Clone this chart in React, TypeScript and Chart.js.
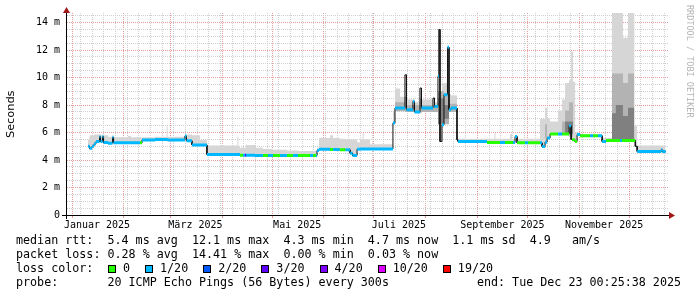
import React, { useEffect, useRef } from 'react';
import { Chart, registerables } from 'chart.js';

Chart.register(...registerables);

// ---------------- data (x = days since 1 Jan 2025, y = milliseconds) ----------------
const DAYS = [
  9.6, 10.5, 12.0, 13.2, 14.4, 16.5, 17.1, 18.3, 18.9, 21.6,
  24.3, 24.9, 33.6, 35.4, 40.8, 42.0, 49.8, 56.7, 57.3, 67.7,
  68.6, 71.9, 76.7, 80.9, 99.2, 99.8, 100.7, 102.5, 103.7, 104.3,
  109.7, 114.5, 117.5, 120.5, 124.7, 128.9, 132.5, 135.5, 142.7, 144.5,
  146.3, 146.9, 148.1, 154.7, 156.5, 160.4, 164.0, 166.7, 168.2, 170.9,
  172.7, 174.2, 174.8, 178.7, 192.4, 193.6, 196.6, 199.6, 200.5, 204.4,
  205.3, 208.6, 209.5, 216.4, 217.3, 219.4, 219.9, 220.6, 221.8, 223.0,
  225.1, 226.0, 227.2, 230.8, 231.4, 248.8, 253.3, 253.9, 256.6, 259.6,
  262.6, 263.8, 264.4, 265.6, 266.8, 271.6, 273.4, 280.6, 281.8, 283.6,
  284.8, 286.6, 291.4, 293.8, 295.6, 298.0, 299.2, 299.8, 300.4, 301.6,
  302.8, 304.6, 310.6, 312.4, 315.3, 317.8, 320.1, 323.7, 328.5, 329.7,
  330.3, 333.3, 337.1, 337.7, 338.8, 353.2, 353.8,
];
const END_DAY = 355.9;

const MEDIAN = [
  5.0, 4.85, 5.0, 5.18, 5.35, 5.7, 5.35, 5.7, 5.27, 5.23,
  5.65, 5.25, 5.25, 5.25, 5.25, 5.45, 5.5, 5.5, 5.45, 5.75,
  5.4, 5.1, 5.1, 4.4, 4.4, 4.4, 4.35, 4.35, 4.35, 4.35,
  4.33, 4.33, 4.33, 4.33, 4.33, 4.33, 4.33, 4.33, 4.33, 4.33,
  4.33, 4.69, 4.79, 4.77, 4.77, 4.75, 4.75, 4.5, 4.33, 4.79,
  4.8, 4.8, 4.8, 4.81, 6.69, 7.78, 7.78, 10.2, 7.66, 8.26,
  7.5, 9.24, 7.78, 8.5, 7.9, 10.1, 13.5, 5.35, 6.56, 8.75,
  12.2, 7.66, 7.78, 5.47, 5.35, 5.28, 5.28, 5.28, 5.28, 5.28,
  5.28, 5.28, 5.28, 5.71, 5.25, 5.25, 5.25, 5.25, 4.98, 5.3,
  5.6, 5.9, 5.9, 5.9, 5.9, 6.49, 5.5, 5.47, 5.47, 5.35,
  5.85, 5.77, 5.77, 5.77, 5.77, 5.35, 5.42, 5.42, 5.42, 5.42,
  5.42, 5.42, 5.42, 5.0, 4.62, 4.75, 4.62,
];

// loss bucket per interval (index into LOSS_COLORS, -1 = not coloured)
const LOSS = [
  1, 1, 1, 1, 1, 1, 1, 1, 1, 1,
  1, 1, 1, 1, 0, 1, 1, 1, 1, 1,
  1, 1, 1, 1, 1, 1, 0, 1, 3, 1,
  1, 0, 1, 0, 1, 0, 1, 0, 1, 0,
  1, 1, 1, 0, 1, 0, 1, 1, 1, 1,
  1, 1, 1, 1, 1, 1, 1, -1, 1, 1,
  1, -1, 1, -1, 1, 1, -1, -1, 1, 1,
  1, 1, 1, -1, 1, 0, 0, 0, 1, 0,
  0, 0, 1, 1, 0, 1, 0, 1, 1, 1,
  1, 0, 1, 0, 0, 1, -1, 0, 0, 0,
  1, 0, 1, 0, 1, 1, 0, 0, 1, 0,
  0, 0, 0, -1, 1, 1, 1,
];

// upper edge of the light smoke (max ping)
const SMOKE_HI = [
  5.5, 5.8, 5.8, 5.85, 5.85, 5.9, 5.8, 5.9, 5.8, 5.7,
  5.8, 5.65, 5.75, 5.65, 5.65, 5.65, 5.7, 6.45, 5.7, 5.85,
  5.85, 5.8, 5.45, 5.05, 5.7, 5.0, 4.9, 4.9, 4.9, 5.1,
  4.9, 4.8, 4.8, 4.75, 4.75, 4.7, 4.7, 4.65, 4.65, 4.65,
  4.7, 4.9, 5.6, 5.8, 5.6, 5.55, 5.5, 5.5, 5.5, 5.3,
  5.5, 5.96, 5.5, 5.15, 7.5, 9.2, 8.6, 10.2, 8.4, 8.5,
  8.2, 9.24, 8.4, 8.6, 8.2, 10.1, 13.5, 9.0, 9.6, 9.6,
  12.2, 8.8, 8.7, 5.6, 5.55, 5.55, 5.96, 5.55, 5.55, 5.55,
  5.9, 5.55, 5.55, 5.8, 5.55, 5.55, 5.55, 7.0, 7.0, 7.8,
  7.05, 6.8, 7.6, 8.4, 9.6, 9.8, 11.9, 11.9, 9.7, 6.0,
  6.0, 5.85, 5.85, 5.85, 5.85, 5.6, 5.6, 14.7, 14.7, 14.7,
  12.9, 14.7, 6.5, 6.5, 5.05, 5.05, 5.05,
];

// medium smoke band
const MID_DAYS = [193.6, 199.6, 200.5, 208.6, 209.5, 219.4, 223.0, 226.0, 230.8, 283.6, 284.8, 293.8, 295.6, 298.0, 300.4, 323.7, 330.3, 333.3, 337.1];
const MID_LO = [7.55, 7.5, 7.5, 7.4, 7.5, 6.6, 6.6, 7.5, null, 5.6, null, 5.9, 5.9, 5.7, null, 5.45, 5.45, 5.45, null];
const MID_HI = [8.2, 8.6, 8.0, 8.5, 8.0, 9.0, 8.8, 8.1, null, 6.6, null, 6.8, 7.6, 8.2, null, 10.3, 9.6, 10.3, null];

// dark smoke band
const DARK_DAYS = [219.4, 223.0, 226.0, 295.6, 300.4, 323.7, 326.0, 330.3, 333.3, 337.1];
const DARK_LO = [6.6, 7.0, null, 5.9, null, 5.45, 5.45, 5.45, 5.45, null];
const DARK_HI = [8.5, 8.0, null, 6.8, null, 7.4, 8.0, 7.2, 7.8, null];

const LOSS_COLORS = ['#26ff00', '#00b8ff', '#0059ff', '#5e00ff', '#7e00ff', '#dd00ff', '#ff0000'];
const LOSS_LABELS = ['0', '1/20', '2/20', '3/20', '4/20', '10/20', '19/20'];

const MONTH_STARTS = [0, 31, 59, 90, 120, 151, 181, 212, 243, 273, 304, 334];
const MONTH_LABEL_DAYS = [15, 74, 135, 196, 258, 319];
const MONTH_LABELS = ['Januar 2025', 'März 2025', 'Mai 2025', 'Juli 2025', 'September 2025', 'November 2025'];
const FIRST_MONDAY = 5;

const Y_LABEL_VALUES = [0, 2, 4, 6, 8, 10, 12, 14];
const Y_LABELS = ['0', '2 m', '4 m', '6 m', '8 m', '10 m', '12 m', '14 m'];

const RTT_STATS = ['5.4 ms avg', '12.1 ms max', '4.3 ms min', '4.7 ms now', '1.1 ms sd', '4.9   am/s'];
const LOSS_STATS = ['0.28 % avg', '14.41 % max', '0.00 % min', '0.03 % now'];
const PROBE = '20 ICMP Echo Pings (56 Bytes) every 300s';
const END_TEXT = 'end: Tue Dec 23 00:25:38 2025';

// ---------------- helpers ----------------
const X_MIN = -3;
const X_MAX = 357.3;
const Y_MAX = 14.7;
const MINOR = '#cfcfcf';
const MAJOR = '#e89b9b';
const MONO = '"DejaVu Sans Mono", monospace';

type P = { x: number; y: number | null };

function stepSeries(days: number[], vals: (number | null)[], end: number): P[] {
  const pts: P[] = [];
  for (let i = 0; i < days.length; i++) {
    const v = vals[i];
    const next = i + 1 < days.length ? days[i + 1] : end;
    if (v == null) {
      pts.push({ x: days[i], y: null });
      continue;
    }
    pts.push({ x: days[i], y: v }, { x: next, y: v });
  }
  return pts;
}

function lossSeries(bucket: number): P[] {
  const pts: P[] = [];
  for (let i = 0; i < DAYS.length; i++) {
    if (LOSS[i] !== bucket) continue;
    const next = i + 1 < DAYS.length ? DAYS[i + 1] : END_DAY;
    pts.push({ x: DAYS[i], y: MEDIAN[i] }, { x: next, y: MEDIAN[i] }, { x: next, y: null });
  }
  return pts;
}

const weekDays: number[] = [];
for (let d = FIRST_MONDAY; d < X_MAX; d += 7) weekDays.push(d);
const X_TICKS = Array.from(new Set([...weekDays, ...MONTH_STARTS, ...MONTH_LABEL_DAYS])).sort((a, b) => a - b);
const Y_TICKS: number[] = [];
for (let v = 0; v < Y_MAX; v += 0.5) Y_TICKS.push(v);

const axesPlugin = {
  id: 'rrdAxes',
  afterDraw(chart: any) {
    const { ctx, chartArea } = chart;
    const { left, right, top, bottom } = chartArea;
    ctx.save();
    ctx.setLineDash([]);
    ctx.strokeStyle = '#000';
    ctx.lineWidth = 1;
    ctx.beginPath();
    ctx.moveTo(left - 5, bottom + 0.5);
    ctx.lineTo(right + 2, bottom + 0.5);
    ctx.moveTo(left - 0.5, bottom + 4);
    ctx.lineTo(left - 0.5, top - 2);
    ctx.stroke();
    ctx.fillStyle = '#a01818';
    ctx.beginPath();
    ctx.moveTo(right + 1, bottom + 0.5 - 3.5);
    ctx.lineTo(right + 7, bottom + 0.5);
    ctx.lineTo(right + 1, bottom + 0.5 + 3.5);
    ctx.closePath();
    ctx.fill();
    ctx.beginPath();
    ctx.moveTo(left - 0.5 - 3.5, top);
    ctx.lineTo(left - 0.5, top - 6);
    ctx.lineTo(left - 0.5 + 3.5, top);
    ctx.closePath();
    ctx.fill();
    ctx.restore();
  },
};

const hidden = 'rgba(0,0,0,0)';

export default function App() {
  const ref = useRef<HTMLCanvasElement>(null);

  useEffect(() => {
    const canvas = ref.current;
    if (!canvas) return;
    const base = { pointRadius: 0, tension: 0, spanGaps: false, borderJoinStyle: 'miter' as const };
    const buckets = Array.from(new Set(LOSS.filter((b) => b >= 0)));
    const datasets: any[] = [
      { ...base, label: 'median', data: stepSeries(DAYS, MEDIAN, END_DAY), borderColor: '#111', borderWidth: 1, fill: false, order: 5 },
      { ...base, label: 'smoke', data: stepSeries(DAYS, SMOKE_HI, END_DAY), borderColor: hidden, borderWidth: 0, backgroundColor: '#d6d6d6', fill: '-1', order: 10 },
      { ...base, label: 'midLo', data: stepSeries(MID_DAYS, MID_LO, END_DAY), borderColor: hidden, borderWidth: 0, fill: false, order: 9 },
      { ...base, label: 'midHi', data: stepSeries(MID_DAYS, MID_HI, END_DAY), borderColor: hidden, borderWidth: 0, backgroundColor: '#b3b3b3', fill: '-1', order: 9 },
      { ...base, label: 'darkLo', data: stepSeries(DARK_DAYS, DARK_LO, END_DAY), borderColor: hidden, borderWidth: 0, fill: false, order: 8 },
      { ...base, label: 'darkHi', data: stepSeries(DARK_DAYS, DARK_HI, END_DAY), borderColor: hidden, borderWidth: 0, backgroundColor: '#808080', fill: '-1', order: 8 },
      ...buckets.map((b) => ({
        ...base,
        label: 'loss' + b,
        data: lossSeries(b),
        borderColor: LOSS_COLORS[b],
        borderWidth: 3,
        borderCapStyle: 'butt',
        fill: false,
        order: 1,
      })),
    ];

    const chart = new Chart(canvas, {
      type: 'line',
      data: { datasets },
      options: {
        animation: false,
        responsive: false,
        maintainAspectRatio: false,
        events: [],
        layout: { padding: { left: 0, right: 29, top: 13, bottom: 0 } },
        plugins: { legend: { display: false }, tooltip: { enabled: false } },
        scales: {
          x: {
            type: 'linear',
            min: X_MIN,
            max: X_MAX,
            afterBuildTicks: (s: any) => {
              s.ticks = X_TICKS.map((v) => ({ value: v }));
            },
            afterFit: (s: any) => {
              s.height = 82;
            },
            ticks: {
              autoSkip: false,
              maxRotation: 0,
              minRotation: 0,
              padding: 1,
              color: '#000',
              font: { family: MONO, size: 10 },
              callback: (v: any) => {
                const i = MONTH_LABEL_DAYS.indexOf(Number(v));
                return i >= 0 ? MONTH_LABELS[i] : '';
              },
            },
            grid: {
              lineWidth: 1,
              tickLength: 3,
              color: (c: any) => {
                const v = c.tick ? c.tick.value : null;
                if (v == null) return hidden;
                if (MONTH_STARTS.includes(v)) return MAJOR;
                if (MONTH_LABEL_DAYS.includes(v)) return hidden;
                return MINOR;
              },
              tickColor: (c: any) => {
                const v = c.tick ? c.tick.value : null;
                return v != null && MONTH_STARTS.includes(v) ? MAJOR : hidden;
              },
            },
            border: { display: false, dash: [1, 1] },
          },
          y: {
            type: 'linear',
            min: 0,
            max: Y_MAX,
            afterBuildTicks: (s: any) => {
              s.ticks = Y_TICKS.map((v) => ({ value: v }));
            },
            afterFit: (s: any) => {
              s.width = 67;
            },
            ticks: {
              autoSkip: false,
              padding: 4,
              color: '#000',
              font: { family: MONO, size: 10 },
              callback: (v: any) => {
                const i = Y_LABEL_VALUES.indexOf(Number(v));
                return i >= 0 ? Y_LABELS[i] : '';
              },
            },
            grid: {
              lineWidth: 1,
              tickLength: 3,
              color: (c: any) => {
                const v = c.tick ? c.tick.value : null;
                if (v == null || v === 0) return hidden;
                return v % 2 === 0 ? MAJOR : MINOR;
              },
              tickColor: hidden,
            },
            border: { display: false, dash: [1, 1] },
          },
        },
      },
      plugins: [axesPlugin],
    } as any);
    return () => chart.destroy();
  }, []);

  const lineH = 13.9;
  const legendTop = 234;
  const legendFont = `11.7px/${lineH}px ${MONO}`;

  return (
    <div style={{ position: 'absolute', left: 0, top: 0, width: 697, height: 297, background: '#fff', overflow: 'hidden' }}>
      <canvas ref={ref} width={697} height={297} style={{ position: 'absolute', left: 0, top: 0, width: 697, height: 297 }} />
      <div
        style={{
          position: 'absolute',
          left: 5,
          top: 90,
          height: 48,
          width: 12,
          writingMode: 'vertical-rl',
          transform: 'rotate(180deg)',
          font: '11.3px/12px "DejaVu Sans", sans-serif',
          color: '#000',
          whiteSpace: 'nowrap',
          textAlign: 'center',
        }}
      >
        Seconds
      </div>
      <div
        style={{
          position: 'absolute',
          left: 685,
          top: 5,
          writingMode: 'vertical-rl',
          font: `8.5px/10px ${MONO}`,
          color: '#b4b4b4',
          whiteSpace: 'pre',
        }}
      >
        RRDTOOL / TOBI OETIKER
      </div>
      <div style={{ position: 'absolute', left: 16, top: legendTop, font: legendFont, color: '#000', whiteSpace: 'pre' }}>
        <div>{'median rtt:  ' + RTT_STATS.join('  ')}</div>
        <div>{'packet loss: ' + LOSS_STATS.join('  ')}</div>
        <div style={{ position: 'relative', height: lineH }}>
          {'loss color:'}
          <div style={{ position: 'absolute', left: 92, top: 0, height: lineH, display: 'flex', alignItems: 'center' }}>
            {LOSS_LABELS.map((l, i) => (
              <React.Fragment key={l}>
                <span
                  style={{
                    display: 'inline-block',
                    width: 8,
                    height: 8,
                    boxSizing: 'border-box',
                    border: '1px solid #000',
                    background: LOSS_COLORS[i],
                    marginRight: 7,
                  }}
                />
                <span style={{ marginRight: 15 }}>{l}</span>
              </React.Fragment>
            ))}
          </div>
        </div>
        <div>{'probe:       ' + PROBE}</div>
      </div>
      <div style={{ position: 'absolute', right: 16, top: legendTop + 3 * lineH, font: legendFont, color: '#000', whiteSpace: 'pre' }}>
        {END_TEXT}
      </div>
    </div>
  );
}
